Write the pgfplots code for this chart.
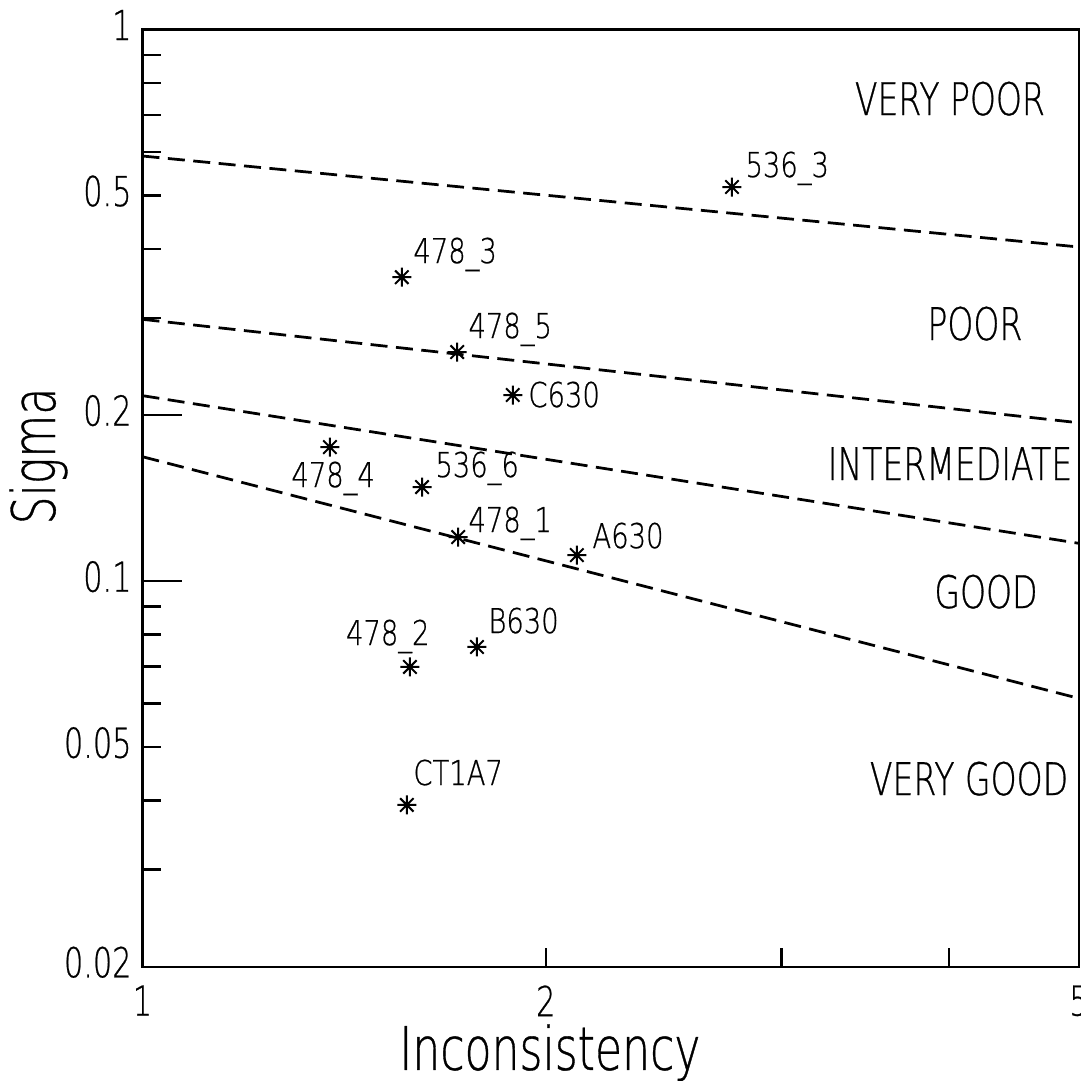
\documentclass[border=0pt]{standalone}
\usepackage{fontspec}
\setmainfont{DejaVu Sans ExtraLight}[FakeStretch=0.8, FakeBold=0.6]
\newfontfamily\narrowfont{DejaVu Sans ExtraLight}[FakeStretch=0.735, FakeBold=0.6]
\usepackage{pgfplots}
\usepackage{pgfplotstable}
\pgfplotsset{compat=1.18}
\pgfdeclareplotmark{ast8}{%
  \pgfpathmoveto{\pgfqpoint{-\pgfplotmarksize}{0pt}}\pgfpathlineto{\pgfqpoint{\pgfplotmarksize}{0pt}}%
  \pgfpathmoveto{\pgfqpoint{0pt}{-\pgfplotmarksize}}\pgfpathlineto{\pgfqpoint{0pt}{\pgfplotmarksize}}%
  \pgfpathmoveto{\pgfqpoint{-0.7071\pgfplotmarksize}{-0.7071\pgfplotmarksize}}\pgfpathlineto{\pgfqpoint{0.7071\pgfplotmarksize}{0.7071\pgfplotmarksize}}%
  \pgfpathmoveto{\pgfqpoint{-0.7071\pgfplotmarksize}{0.7071\pgfplotmarksize}}\pgfpathlineto{\pgfqpoint{0.7071\pgfplotmarksize}{-0.7071\pgfplotmarksize}}%
  \pgfusepathqstroke}
\pgfplotstableread{
x y
2.754 0.5182
1.5617 0.3557
1.7174 0.2602
1.8899 0.2175
1.3801 0.1750
1.6168 0.1481
1.7204 0.1202
2.1095 0.1115
1.5834 0.0699
1.7769 0.0760
1.5752 0.0393
}\pts
\newcommand{\ptfont}{\fontsize{13.7}{14}\selectfont}
\newcommand{\rgfont}{\narrowfont\fontsize{18}{19}\selectfont}
\begin{document}
\begin{tikzpicture}
\begin{axis}[
  scale only axis, width=374.6pt, height=374.9pt,
  xmode=log, ymode=log,
  xmin=1, xmax=5, ymin=0.02, ymax=1,
  axis line style={line width=1pt},
  tick style={line width=1pt, black},
  tick align=inside,
  xtick pos=bottom, ytick pos=left,
  xminorticks=false, yminorticks=false,
  major tick length=7.4pt,
  xtick={1,2,3,4,5}, xticklabels={1,2,,,5},
  ytick={0.02,0.03,0.04,0.05,0.06,0.07,0.08,0.09,0.1,0.2,0.3,0.4,0.5,0.6,0.7,0.8,0.9,1},
  yticklabels={0.02,,,0.05,,,,,0.1,0.2,,,0.5,,,,,1},
  extra y ticks={0.1,0.2}, extra y tick labels={},
  extra y tick style={major tick length=16pt},
  ticklabel style={font=\narrowfont\fontsize{16.5}{18}\selectfont},
  xticklabel style={anchor=north, inner sep=0pt, yshift=-7.3pt},
  yticklabel style={anchor=east, inner sep=0pt, xshift=-4.2pt, yshift=1.8pt},
  xlabel={Inconsistency}, ylabel={Sigma},
  label style={font=\narrowfont\fontsize{24}{26}\selectfont},
  xlabel style={at={(rel axis cs:0.435,-0.110)}, anchor=base, inner sep=0pt},
  ylabel style={at={(rel axis cs:-0.0934,0.5449)}, anchor=base, rotate=0, inner sep=0pt},
  clip=false,
]
\addplot[black, line width=1.1pt, dash pattern=on 6.8pt off 3.4pt] coordinates {(1,0.5898) (5,0.4034)};
\addplot[black, line width=1.1pt, dash pattern=on 6.8pt off 3.4pt] coordinates {(1,0.2983) (5,0.1937)};
\addplot[black, line width=1.1pt, dash pattern=on 6.8pt off 3.4pt] coordinates {(1,0.2169) (5,0.1171)};
\addplot[black, line width=1.1pt, dash pattern=on 6.8pt off 3.4pt] coordinates {(1,0.1681) (5,0.0613)};
\addplot[only marks, mark=ast8, mark size=3.8pt, mark options={line width=0.8pt, black}] table {\pts};
\node[anchor=base west, font=\ptfont, inner sep=0pt] at (rel axis cs:0.6434,0.8426) {536\_3};
\node[anchor=base west, font=\ptfont, inner sep=0pt] at (rel axis cs:0.2888,0.7508) {478\_3};
\node[anchor=base west, font=\ptfont, inner sep=0pt] at (rel axis cs:0.3476,0.6708) {478\_5};
\node[anchor=base west, font=\ptfont, inner sep=0pt] at (rel axis cs:0.4116,0.5972) {C630};
\node[anchor=base east, font=\ptfont, inner sep=0pt] at (rel axis cs:0.2487,0.5118) {478\_4};
\node[anchor=base west, font=\ptfont, inner sep=0pt] at (rel axis cs:0.3123,0.5225) {536\_6};
\node[anchor=base west, font=\ptfont, inner sep=0pt] at (rel axis cs:0.3476,0.4638) {478\_1};
\node[anchor=base west, font=\ptfont, inner sep=0pt] at (rel axis cs:0.4800,0.4467) {A630};
\node[anchor=base east, font=\ptfont, inner sep=0pt] at (rel axis cs:0.3070,0.3432) {478\_2};
\node[anchor=base west, font=\ptfont, inner sep=0pt] at (rel axis cs:0.3689,0.3560) {B630};
\node[anchor=base west, font=\ptfont, inner sep=0pt] at (rel axis cs:0.2888,0.1939) {CT1A7};
\node[anchor=base, font=\rgfont, inner sep=0pt] at (rel axis cs:0.8622,0.9087) {VERY POOR};
\node[anchor=base, font=\rgfont, inner sep=0pt] at (rel axis cs:0.8889,0.6687) {POOR};
\node[anchor=base, font=\rgfont, inner sep=0pt] at (rel axis cs:0.8622,0.5193) {INTERMEDIATE};
\node[anchor=base, font=\rgfont, inner sep=0pt] at (rel axis cs:0.9007,0.3827) {GOOD};
\node[anchor=base, font=\rgfont, inner sep=0pt] at (rel axis cs:0.8826,0.1832) {VERY GOOD};
\coordinate (LL) at (rel axis cs:0,0);
\coordinate (UR) at (rel axis cs:1,1);
\end{axis}
\pgfresetboundingbox
\path[use as bounding box] ([xshift=-57pt, yshift=-45.7pt]LL) rectangle ([xshift=0.6pt, yshift=11.8pt]UR);
\end{tikzpicture}
\end{document}
